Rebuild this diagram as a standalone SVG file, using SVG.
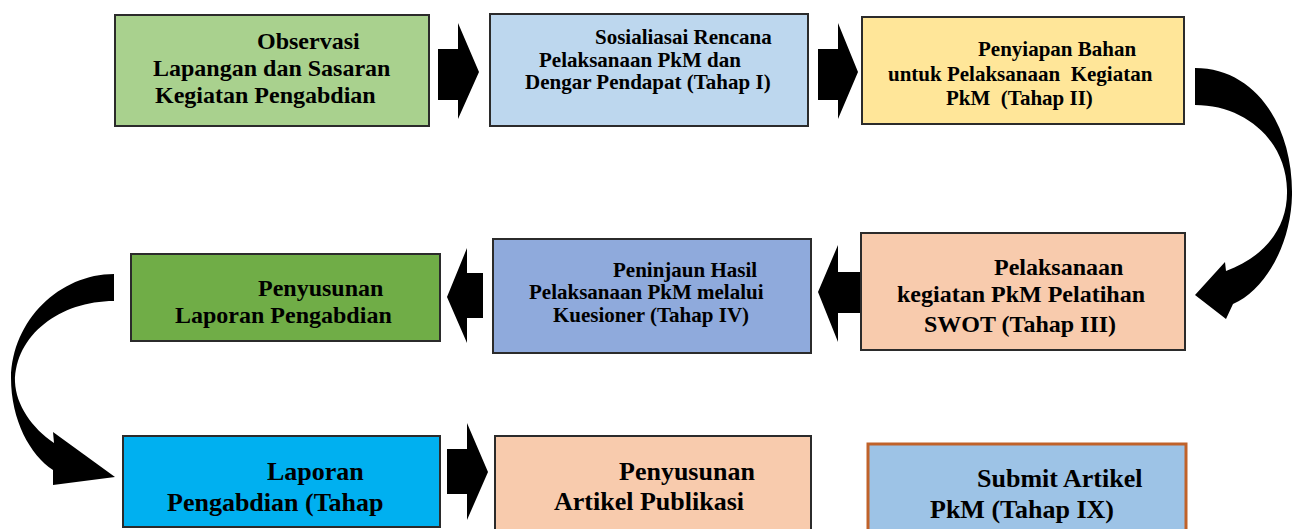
<svg xmlns="http://www.w3.org/2000/svg" width="1295" height="529" viewBox="0 0 1295 529">
<style>
.box{stroke:#2b2b2b;stroke-width:2}
.t{font-family:"Liberation Serif","Times New Roman",serif;font-weight:bold;fill:#000}
.s21{font-size:21px}
.s24{font-size:24px}
.s26{font-size:26px}
.arr{fill:#000}
</style>
<rect width="1295" height="529" fill="#fff"/>
<g id="connectors">
<polygon class="arr" points="438,49 458,49 458,23 479,72 458,119 458,100 438,100"/>
<polygon class="arr" points="818,49 838,49 838,23 858,72 838,119 838,100 818,100"/>
<polygon class="arr" points="860,272 838,272 838,245 818,292 838,342 838,313 860,313"/>
<polygon class="arr" points="483,273 467,273 467,248 447,297 467,343 467,318 483,318"/>
<polygon class="arr" points="447,449 467,449 467,423 488,472 467,520 467,494 447,494"/>
<path class="arr" d="M1195,68 C1255,68 1293,125 1292,195 C1291,245 1265,290 1233,304 L1226,319 L1195,295 L1225,262 L1226,271 C1262,258 1288,230 1287,190 C1286,140 1245,105 1195,105 Z"/>
<path class="arr" d="M114,274 C60,274 12,320 11,378 C11,420 30,455 53,470 L53,485 L115,477 L53,432 L54,443 C32,428 16,405 15,382 C15,335 60,301 114,301 Z"/>
</g>
<g id="n1">
<rect class="box" x="115" y="15" width="314" height="111" fill="#a9d18e"/>
<text class="t s24" x="257" y="49">Observasi</text>
<text class="t s24" x="153" y="76">Lapangan dan Sasaran</text>
<text class="t s24" x="155" y="103">Kegiatan Pengabdian</text>
</g>
<g id="n2">
<rect class="box" x="490" y="14" width="318" height="112" fill="#bdd7ee"/>
<text class="t s21" x="595" y="44">Sosialiasai Rencana</text>
<text class="t s21" x="539" y="67">Pelaksanaan PkM dan</text>
<text class="t s21" x="525" y="89">Dengar Pendapat (Tahap I)</text>
</g>
<g id="n3">
<rect class="box" x="862" y="17" width="322" height="107" fill="#ffe699"/>
<text class="t s21" x="978" y="56">Penyiapan Bahan</text>
<text class="t s21" x="888" y="81" xml:space="preserve">untuk Pelaksanaan  Kegiatan</text>
<text class="t s21" x="946" y="105" xml:space="preserve">PkM  (Tahap II)</text>
</g>
<g id="n4">
<rect class="box" x="861" y="233" width="324" height="117" fill="#f8cbad"/>
<text class="t s24" x="994" y="275">Pelaksanaan</text>
<text class="t s24" x="897" y="302">kegiatan PkM Pelatihan</text>
<text class="t s24" x="924" y="332">SWOT (Tahap III)</text>
</g>
<g id="n5">
<rect class="box" x="493" y="239" width="318" height="114" fill="#8faadc"/>
<text class="t s21" x="613" y="277">Peninjaun Hasil</text>
<text class="t s21" x="529" y="299">Pelaksanaan PkM melalui</text>
<text class="t s21" x="553" y="322">Kuesioner (Tahap IV)</text>
</g>
<g id="n6">
<rect class="box" x="131" y="254" width="309" height="87" fill="#70ad47"/>
<text class="t s24" x="258" y="296">Penyusunan</text>
<text class="t s24" x="175" y="323">Laporan Pengabdian</text>
</g>
<g id="n7">
<rect class="box" x="123" y="436" width="317" height="91" fill="#00b0f0"/>
<text class="t s26" x="267" y="480">Laporan</text>
<text class="t s26" x="167" y="511">Pengabdian (Tahap</text>
</g>
<g id="n8">
<rect class="box" x="495" y="436" width="316" height="100" fill="#f8cbad"/>
<text class="t s26" x="619" y="480">Penyusunan</text>
<text class="t s26" x="554" y="510">Artikel Publikasi</text>
</g>
<g id="n9">
<rect x="868" y="444" width="318" height="95" fill="#9dc3e6" stroke="#c0622a" stroke-width="3"/>
<text class="t s26" x="977" y="487">Submit Artikel</text>
<text class="t s26" x="930" y="518">PkM (Tahap IX)</text>
</g>
</svg>
